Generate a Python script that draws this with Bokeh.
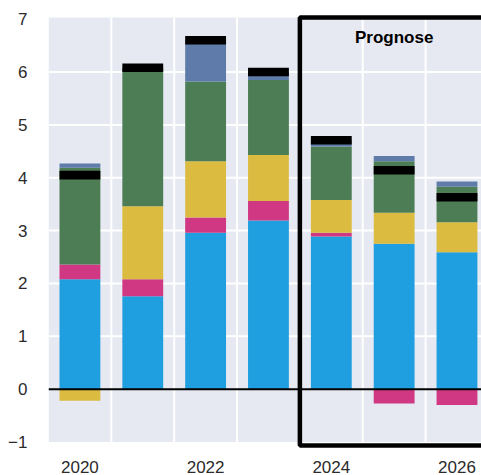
from bokeh.plotting import figure
from bokeh.models import Range1d, FixedTicker
from bokeh.core.properties import value
from bokeh.embed import file_html
from bokeh.resources import INLINE

# Contributions per year (stacked), in percentage points
years = [2020, 2021, 2022, 2023, 2024, 2025, 2026]
blue = [2.08, 1.76, 2.96, 3.19, 2.89, 2.75, 2.59]
pink = [0.28, 0.32, 0.29, 0.37, 0.07, -0.27, -0.30]
yellow = [-0.22, 1.38, 1.06, 0.87, 0.62, 0.59, 0.57]
green = [1.83, 2.62, 1.51, 1.42, 1.01, 0.97, 0.67]
slate = [0.08, 0.00, 0.78, 0.15, 0.12, 0.10, 0.10]

y_ticks = [-1, 0, 1, 2, 3, 4, 5, 6, 7]
x_ticks = [2020, 2022, 2024, 2026]
forecast_start = 2024
forecast_label = "Prognose"

series = [
    (blue, "#1f9fe0"),
    (pink, "#d03884"),
    (yellow, "#dbbb40"),
    (green, "#4c7d55"),
    (slate, "#5f7ba9"),
]

FONT = "Liberation Sans"
BG = "#e6e9f1"
BAR_W = 0.65

x0, x1 = 2019.5, 2026.39
y_lo, y_hi = -1.0, 7.03

p = figure(
    width=481, height=475,
    x_range=Range1d(x0, x1), y_range=Range1d(-1.16, 7.126),
    output_backend="svg", toolbar_location=None,
    min_border_left=48, min_border_right=0,
    min_border_top=12, min_border_bottom=23,
)
p.outline_line_color = None
p.background_fill_color = "white"
p.border_fill_color = "white"
p.xgrid.visible = False
p.ygrid.visible = False

# panel background and grid lines
p.quad(left=[x0], right=[x1], bottom=[y_lo], top=[y_hi],
       fill_color=BG, line_color=None)
h_lines = [t for t in y_ticks if 0 < t < 7]
p.segment(x0=[x0] * len(h_lines), x1=[x1] * len(h_lines),
          y0=h_lines, y1=h_lines, line_color="white", line_width=2)
v_lines = [y + 0.5 for y in years[:-1]]
p.segment(x0=v_lines, x1=v_lines, y0=[y_lo] * len(v_lines),
          y1=[y_hi] * len(v_lines), line_color="white", line_width=2)

# stacked bars: positives upward from 0, negatives downward
pos_base = [0.0] * len(years)
neg_base = [0.0] * len(years)
for vals, color in series:
    bottoms, tops = [], []
    for i, v in enumerate(vals):
        if v >= 0:
            bottoms.append(pos_base[i])
            tops.append(pos_base[i] + v)
            pos_base[i] += v
        else:
            bottoms.append(neg_base[i] + v)
            tops.append(neg_base[i])
            neg_base[i] += v
    p.vbar(x=years, bottom=bottoms, top=tops, width=BAR_W,
           fill_color=color, line_color=None)

# net total marker
totals = [sum(s[0][i] for s in series) for i in range(len(years))]
p.rect(x=years, y=totals, width=BAR_W, height=0.162,
       fill_color="black", line_color=None)

# zero line
p.segment(x0=[x0], x1=[x1], y0=[0], y1=[0], line_color="black", line_width=2)

# forecast frame
p.quad(left=[forecast_start - 0.5], right=[x1 + 1.0], bottom=[-1.066], top=[y_hi],
       fill_color=None, line_color="black", line_width=4.5)
p.text(x=[(forecast_start + years[-1]) / 2], y=[6.66], text=[forecast_label],
       text_align="center", text_baseline="middle",
       text_font=value(FONT), text_font_style="bold",
       text_font_size="17px", text_color="black")

for ax in (p.xaxis, p.yaxis):
    ax.axis_line_color = None
    ax.major_tick_line_color = None
    ax.minor_tick_line_color = None
    ax.major_label_text_font = FONT
    ax.major_label_text_font_size = "17px"
    ax.major_label_text_color = "#2b2b2b"

p.yaxis.ticker = FixedTicker(ticks=y_ticks)
p.yaxis.major_label_standoff = 15
p.xaxis.ticker = FixedTicker(ticks=x_ticks)
p.xaxis.major_label_standoff = 4

open("out.html", "w").write(file_html(p, INLINE))
